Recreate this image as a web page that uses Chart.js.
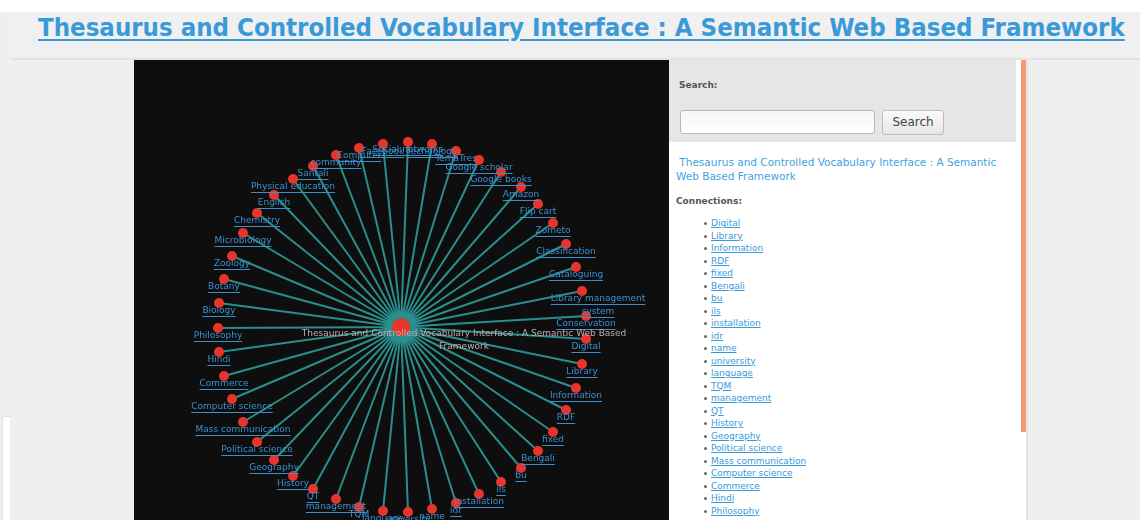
<!DOCTYPE html>
<html>
<head>
<meta charset="utf-8">
<title>Thesaurus and Controlled Vocabulary Interface</title>
<script src="https://cdn.jsdelivr.net/npm/chart.js@4.4.1/dist/chart.umd.min.js"></script>
<style>
  html, body { margin: 0; padding: 0; }
  body {
    width: 1140px; height: 520px; overflow: hidden; position: relative;
    background: #efefef; font-family: "DejaVu Sans", Verdana, sans-serif;
  }
  #topWhite { position: absolute; left: 0; top: 0; width: 1140px; height: 12px; background: #fff; }
  #titleBar { position: absolute; left: 10px; top: 12px; width: 1130px; height: 46px; background: #f0f0f0; border-bottom: 2px solid #e2e2e2; }
  #title {
    position: absolute; left: 38px; top: 13px; white-space: nowrap;
    font-family: "DejaVu Sans Condensed", "DejaVu Sans", sans-serif; font-weight: bold; font-size: 25px;
    color: #3a9ad9; text-decoration: underline; text-decoration-thickness: 2px; text-underline-offset: 3px;
    transform-origin: 0 0;
  }
  #leftBox { position: absolute; left: 2px; top: 416px; width: 30px; height: 110px; background: #fff; border: 1px solid #e0e0e0; border-radius: 3px; }
  #leftCol { position: absolute; left: 10px; top: 60px; width: 121px; height: 460px; background: #efefef; }
  #graphPanel { position: absolute; left: 134px; top: 60px; width: 535px; height: 460px; background: #0e0e0f; }
  #sidebar { position: absolute; left: 669px; top: 60px; width: 357px; height: 460px; background: #fff; }
  #searchBox { position: absolute; left: 0; top: 0; width: 347px; height: 82px; background: #e6e6e7; }
  #searchLbl { position: absolute; left: 10px; top: 20px; font-size: 9px; font-weight: bold; color: #555; }
  #searchInput { position: absolute; left: 11px; top: 50px; width: 193px; height: 22px; border: 1px solid #b8b8b8; border-radius: 3px; background: linear-gradient(#f6f6f6, #fff); }
  #searchBtn { position: absolute; left: 213px; top: 50px; width: 60px; height: 23px; border: 1px solid #bdbdbd; border-radius: 3px; background: linear-gradient(#fafafa, #e6e6e6); font-size: 12px; color: #444; text-align: center; line-height: 23px; }
  #docLink { position: absolute; left: 7px; top: 95px; width: 330px; font-size: 10.5px; line-height: 14px; color: #3fa4e0; }
  #connLbl { position: absolute; left: 7px; top: 136px; font-size: 9px; font-weight: bold; color: #555; }
  #connList { position: absolute; left: 42px; top: 157px; margin: 0; padding: 0; list-style: none; font-size: 9px; line-height: 12.5px; }
  #connList li { position: relative; }
  #connList li::before { content: ""; position: absolute; left: -7px; top: 5px; width: 3px; height: 3px; border-radius: 2px; background: #666; }
  #connList a { color: #3a9ad9; text-decoration: underline; }
  #scrollBar { position: absolute; left: 1021px; top: 60px; width: 5px; height: 372px; background: #f59a74; }
  #rightEdge { position: absolute; left: 1026px; top: 60px; width: 2px; height: 460px; background: #e4e4e4; }
</style>
</head>
<body>
<div id="topWhite"></div>
<div id="titleBar"></div>
<div id="title">Thesaurus and Controlled Vocabulary Interface : A Semantic Web Based Framework</div>
<div id="leftBox"></div>
<div id="leftCol"></div>
<div id="graphPanel"><canvas id="graph" width="535" height="460"></canvas></div>
<div id="sidebar">
  <div id="searchBox">
    <div id="searchLbl">Search:</div>
    <div id="searchInput"></div>
    <div id="searchBtn">Search</div>
  </div>
  <div id="docLink">&nbsp;Thesaurus and Controlled Vocabulary Interface : A Semantic Web Based Framework</div>
  <div id="connLbl">Connections:</div>
  <ul id="connList"></ul>
</div>
<div id="scrollBar"></div>
<div id="rightEdge"></div>
<script>
// root term of the graph
const rootLabel = "Thesaurus and Controlled Vocabulary Interface : A Semantic Web Based Framework";

// connected terms, clockwise from the right
const nodeLabels = [
    "Digital", "Library", "Information", "RDF", "fixed", "Bengali", "bu", "ils",
    "installation", "idr", "name", "university", "language", "TQM", "management", "QT",
    "History", "Geography", "Political science", "Mass communication", "Computer science",
    "Commerce", "Hindi", "Philosophy", "Biology", "Botany", "Zoology", "Microbiology",
    "Chemistry", "English", "Physical education", "Santali", "community", "Computer",
    "Facebook", "Social networks", "Technology", "TemaTres", "Google scholar", "Google books",
    "Amazon", "Flip cart", "Zometo", "Classification", "Cataloguing",
    "Library management\nsystem", "Conservation"
];

// node positions (root at 0,0)
const nodeX = [
    185, 181, 175, 165, 152, 137, 120, 100, 78, 55, 31, 7, -18, -42, -65, -88,
    -108, -127, -144, -158, -169, -177, -182, -183, -182, -177, -169, -158,
    -144, -127, -108, -88, -65, -42, -18, 7, 31, 55, 78, 100,
    120, 137, 152, 165, 175, 181, 185
];
const nodeY = [
    -12, -37, -61, -83, -105, -124, -141, -155, -167, -176, -182, -185, -184, -180, -172, -162,
    -149, -133, -115, -95, -72, -49, -25, -1, 24, 48, 71, 94,
    114, 132, 148, 161, 172, 179, 183, 185, 183, 176, 167, 155,
    140, 123, 104, 83, 60, 36, 11
];

// sidebar list (first 24 connections visible)
const listCount = 24;
const ul = document.getElementById('connList');
nodeLabels.slice(0, listCount).forEach(name => {
    const li = document.createElement('li');
    const a = document.createElement('a');
    a.textContent = name;
    li.appendChild(a);
    ul.appendChild(li);
});

// fit page title to its width
const title = document.getElementById('title');
title.style.transform = 'scaleX(' + (1087 / title.offsetWidth) + ')';

// spokes: root -> node -> root -> node ...
const spokes = [];
nodeX.forEach((x, i) => {
    spokes.push({ x: 0, y: 0 });
    spokes.push({ x: x, y: nodeY[i] });
});
spokes.push({ x: 0, y: 0 });

const nodeLabelPlugin = {
    id: 'nodeLabels',
    afterDatasetsDraw(chart) {
        const ctx = chart.ctx;
        const meta = chart.getDatasetMeta(1);
        ctx.save();
        ctx.font = '9px "DejaVu Sans"';
        ctx.textAlign = 'center';
        ctx.textBaseline = 'middle';
        meta.data.forEach((pt, i) => {
            const lines = nodeLabels[i].split('\n');
            const dx = lines.length > 1 ? 16 : 0;
            lines.forEach((line, k) => {
                const tx = pt.x + dx;
                const ty = pt.y + 8 + k * 13;
                ctx.fillStyle = '#3b8fd0';
                ctx.fillText(line, tx, ty);
                const w = ctx.measureText(line).width;
                ctx.fillRect(tx - w / 2, ty + 5, w, 1);
            });
        });
        // root label
        const root = chart.getDatasetMeta(2).data[0];
        ctx.fillStyle = '#c4abab';
        ctx.fillText("Thesaurus and Controlled Vocabulary Interface : A Semantic Web Based", root.x + 63, root.y + 7);
        ctx.fillText("Framework", root.x + 63, root.y + 20);
        ctx.restore();
    }
};

new Chart(document.getElementById('graph'), {
    type: 'scatter',
    data: {
        datasets: [
            {
                label: 'links',
                data: spokes,
                order: 2,
                showLine: true,
                borderColor: '#2a8e8c',
                borderWidth: 2,
                pointRadius: 0,
                fill: false
            },
            {
                label: 'terms',
                data: nodeX.map((x, i) => ({ x: x, y: nodeY[i] })),
                order: 1,
                pointRadius: 5,
                pointBackgroundColor: '#e8352b',
                pointBorderWidth: 0
            },
            {
                label: rootLabel,
                data: [{ x: 0, y: 0 }],
                order: 0,
                pointRadius: 9,
                pointBackgroundColor: '#e8352b',
                pointBorderWidth: 0
            }
        ]
    },
    options: {
        responsive: false,
        animation: false,
        devicePixelRatio: 1,
        layout: { padding: 0, autoPadding: false },
        plugins: { legend: { display: false }, tooltip: { enabled: false } },
        scales: {
            x: { type: 'linear', min: -267, max: 268, display: false },
            y: { type: 'linear', min: -193, max: 267, display: false }
        }
    },
    plugins: [nodeLabelPlugin]
});
</script>
</body>
</html>
